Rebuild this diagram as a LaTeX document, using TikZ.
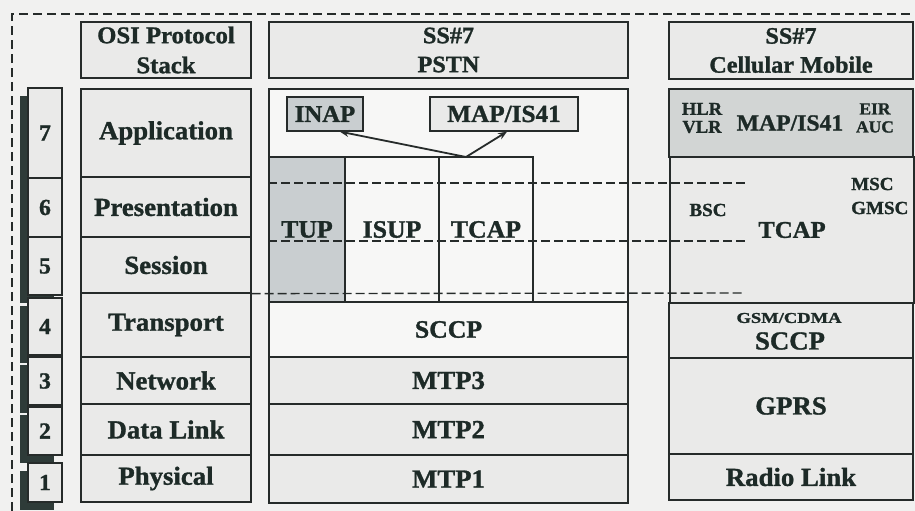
\documentclass[tikz,border=0pt]{standalone}
\usepackage{fontspec}
\setmainfont{Liberation Serif}[FakeStretch=1.03,FakeBold=1.2]
\usetikzlibrary{arrows.meta,shadows}

\definecolor{paper}{HTML}{F1F1F0}
\definecolor{boxc}{HTML}{EAEAE9}
\definecolor{lightc}{HTML}{F7F7F6}
\definecolor{greyc}{HTML}{D2D5D4}
\definecolor{tupc}{HTML}{C9CED0}
\definecolor{linec}{HTML}{262B2A}
\definecolor{txt}{HTML}{1D2A27}
\definecolor{shadowc}{HTML}{2E3B38}

\newcommand{\fsz}[2]{\fontsize{#1}{#2}\selectfont\bfseries}

\tikzset{
  cell/.style={draw=linec, line width=1.2pt, fill=boxc, inner sep=0pt,
               text=txt, align=center},
  numbox/.style={cell, minimum width=34pt, font=\fsz{23}{26},
                 drop shadow={shadow xshift=-8pt, shadow yshift=-8pt,
                              fill=shadowc, opacity=1}},
  osirow/.style={cell, minimum width=170pt, font=\fsz{26}{30}},
  pstnrow/.style={cell, minimum width=359pt, font=\fsz{26}{30}},
  cellrow/.style={cell, minimum width=244pt, font=\fsz{26}{30}},
  label/.style={inner sep=0pt, text=txt, align=center},
  layerline/.style={draw=linec, line width=1.4pt, dash pattern=on 9pt off 4pt},
  arr/.style={draw=linec, line width=1.8pt, -{Stealth[length=9pt,width=7pt]}}
}

\begin{document}
\begin{tikzpicture}[x=1pt,y=-1pt]
\useasboundingbox (0,0) rectangle (915,511);
\fill[paper] (0,0) rectangle (915,511);

% frame round the whole comparison
\draw[linec, line width=1.5pt, dash pattern=on 9pt off 5pt] (12,511) -- (12,14) -- (915,14);

% layer numbers with their dark shadows
\node[numbox, minimum height=90pt] (n7) at (45,133)   {7};
\node[numbox, minimum height=59pt] (n6) at (45,207.5) {6};
\node[numbox, minimum height=58pt] (n5) at (45,266)   {5};
\node[numbox, minimum height=57pt] (n4) at (45,326.5) {4};
\node[numbox, minimum height=48pt] (n3) at (45,381)   {3};
\node[numbox, minimum height=48pt] (n2) at (45,431)   {2};
\node[numbox, minimum height=39pt] (n1) at (45,482.5) {1};

% OSI reference stack
\node[osirow, minimum height=56pt, font=\fsz{24}{30}] (osihead) at (166,50) {OSI Protocol\\Stack};
\node[osirow, minimum height=88pt] (app)  at (166,133)   {Application};
\node[osirow, minimum height=60pt] (pres) at (166,207)   {Presentation};
\node[osirow, minimum height=56pt] (sess) at (166,265)   {Session};
\node[osirow, minimum height=64pt] (tran) at (166,325)   {Transport};
\node[osirow, minimum height=47pt] (netw) at (166,380.5) {Network};
\node[osirow, minimum height=51pt] (dlnk) at (166,429.5) {Data Link};
\node[osirow, minimum height=47pt] (phys) at (166,478.5) {Physical};

% SS#7 over the PSTN
\node[pstnrow, minimum height=56pt, font=\fsz{23.5}{29}] (pstnhead) at (448.5,50) {SS\#7\\PSTN};
\node[pstnrow, minimum height=213pt, fill=lightc] (pstnup) at (448.5,195.5) {};
\node[cell, minimum width=76pt, minimum height=145pt, fill=tupc, font=\fsz{25}{28}] (tup)  at (307,229.5) {TUP};
\node[cell, minimum width=94pt, minimum height=145pt, fill=lightc, font=\fsz{25}{28}] (isup) at (392,229.5) {ISUP};
\node[cell, minimum width=94pt, minimum height=145pt, fill=lightc, font=\fsz{25}{28}] (tcap) at (486,229.5) {TCAP};
\node[pstnrow, minimum height=55pt, fill=lightc, font=\fsz{25}{28}] (sccp) at (448.5,329.5) {SCCP};
\node[pstnrow, minimum height=47pt] (mtp3) at (448.5,380.5) {MTP3};
\node[pstnrow, minimum height=51pt] (mtp2) at (448.5,429.5) {MTP2};
\node[pstnrow, minimum height=48pt] (mtp1) at (448.5,479)   {MTP1};

\node[cell, minimum width=76pt, minimum height=34pt, fill=tupc, font=\fsz{24}{26}] (inap) at (325,114) {INAP};
\node[cell, minimum width=148pt, minimum height=34pt, font=\fsz{24.5}{26}] (map) at (504,114) {MAP/IS41};

\coordinate (fork) at (466,157);
\draw[arr] (fork) -- (inap.-50);
\draw[arr] (fork) -- (map.-80);

% SS#7 over the cellular mobile network
\node[cellrow, minimum height=57pt, font=\fsz{23.5}{29}] (cellhead) at (791,50.5) {SS\#7\\Cellular Mobile};
\node[cellrow, minimum height=68pt, fill=greyc] (cellapp) at (791,123) {};
\node[label, font=\fsz{23}{26}] (cmap) at (790,123) {MAP/IS41};
\node[label, font=\fsz{18}{18}] (hlr) at (702,118) {HLR\\VLR};
\node[label, font=\fsz{17}{18}] (eir) at (875,118) {EIR\\AUC};
\node[cellrow, minimum height=146pt, fill=boxc, font=\fsz{24}{26}] (ctcap) at (792,230) {TCAP};
\node[label, font=\fsz{18.5}{20}] (bsc) at (708,210) {BSC};
\node[label, font=\fsz{18.5}{24}, align=left, anchor=west] (msc) at (851,196) {MSC\\GMSC};
\node[cellrow, minimum height=55pt] (csccp) at (791,330.5) {};
\node[label, font=\fsz{15}{18}] (gsm) at (789,318) {\scalebox{1.2}[1]{GSM/CDMA}};
\node[label, font=\fsz{26}{28}] (csccpt) at (790,341) {SCCP};
\node[cellrow, minimum height=96pt] (gprs) at (791,406) {GPRS};
\node[cellrow, minimum height=46pt] (radio) at (791,477) {Radio Link};

% layer boundaries carried across both SS#7 stacks
\draw[layerline] (tup.west |- 0,183) -- (745,183);
\draw[layerline] (tup.west |- 0,241) -- (745,241);
\draw[layerline] (sess.south east) -- (745,293);
\end{tikzpicture}
\end{document}
